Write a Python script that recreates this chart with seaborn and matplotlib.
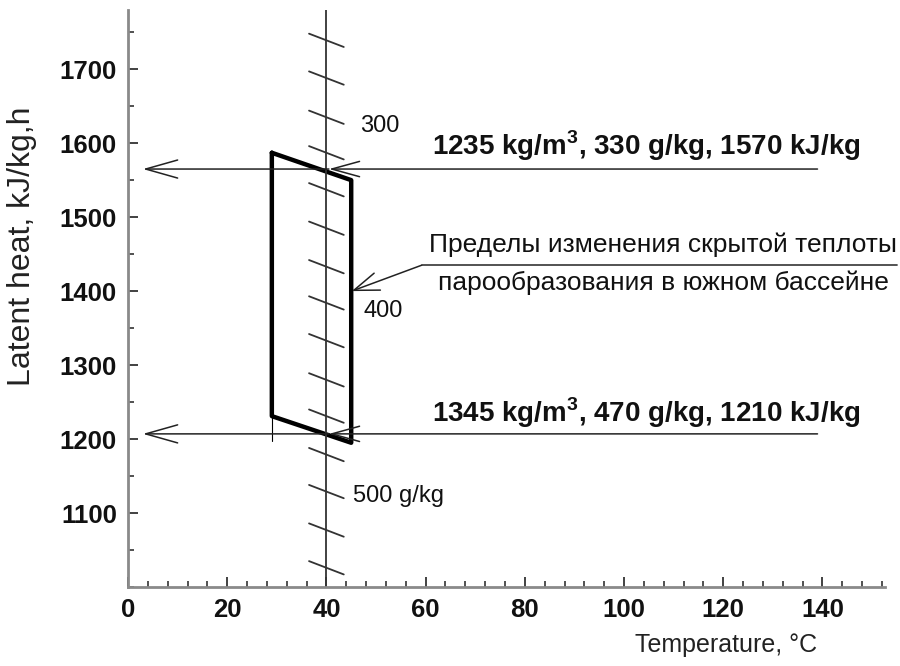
import matplotlib
matplotlib.use("Agg")
import matplotlib.pyplot as plt
from matplotlib.ticker import MultipleLocator
import seaborn as sns
import pandas as pd

# --- DATA ---
# parallelogram: limits of latent heat in the southern basin
box_temp = [29, 45, 45, 29, 29]
box_heat = [1587, 1550, 1195, 1231, 1587]

# concentration scale drawn along the 40 C line (every 20 g/kg)
scale_temp = 40
scale_heat = [1739, 1688, 1635, 1587, 1537, 1485, 1433, 1384,
              1333, 1280, 1231, 1179, 1129, 1077, 1026]
scale_labels = ["300", "400", "500 g/kg"]
scale_label_temp = [46.8, 47.4, 45.4]
scale_label_heat = [1623, 1373, 1123]

# the two limiting states
limit_heat = [1565, 1207]
limit_labels = ["1235 kg/m$^{\\mathbf{3}}$, 330 g/kg, 1570 kJ/kg",
                "1345 kg/m$^{\\mathbf{3}}$, 470 g/kg, 1210 kJ/kg"]
limit_label_heat = [1584, 1223]

note_lines = ["Пределы изменения скрытой теплоты",
              "парообразования в южном бассейне"]
note_line_heat = [1453, 1402]

x_ticks = [0, 20, 40, 60, 80, 100, 120, 140]
y_ticks = [1100, 1200, 1300, 1400, 1500, 1600, 1700]

# --- STYLE ---
sns.set_theme(style="ticks")
plt.rcParams['font.family'] = ['Liberation Sans', 'DejaVu Sans']
plt.rcParams['mathtext.fontset'] = 'custom'
plt.rcParams['mathtext.rm'] = 'Liberation Sans'
plt.rcParams['mathtext.bf'] = 'Liberation Sans:bold'

fig = plt.figure(figsize=(9, 6.66), dpi=100)
ax = fig.add_axes([0.1422, 0.1186, 0.8411, 0.8664])

# 1. Parallelogram
box = pd.DataFrame({"temp": box_temp, "heat": box_heat})
sns.lineplot(data=box, x="temp", y="heat", sort=False, estimator=None,
             color="black", lw=3.2, ax=ax)
ax.plot([box_temp[3], box_temp[3]], [box_heat[3], 1197], color="black", lw=0.8)

# 2. Vertical 40 C line with concentration hatches
ax.axvline(scale_temp, color="#333333", lw=1.3)
for h in scale_heat:
    ax.plot([scale_temp - 3.5, scale_temp + 3.5], [h + 9, h - 9],
            color="#333333", lw=1.3)
for lab, t, h in zip(scale_labels, scale_label_temp, scale_label_heat):
    ax.text(t, h, lab, fontsize=17, ha="left", va="center", color="#111111")

# 3. Horizontal limit lines with arrows
for h, lab, lh in zip(limit_heat, limit_labels, limit_label_heat):
    ax.annotate("", xy=(scale_temp + 0.5, h), xytext=(139, h),
                arrowprops=dict(arrowstyle="->,head_length=2.0,head_width=0.55",
                                mutation_scale=10, lw=1.1, color="#222222",
                                shrinkA=0, shrinkB=0))
    ax.annotate("", xy=(3, h), xytext=(scale_temp + 0.5, h),
                arrowprops=dict(arrowstyle="->,head_length=2.3,head_width=0.65",
                                mutation_scale=10, lw=1.1, color="#222222",
                                shrinkA=0, shrinkB=0))
    ax.text(61.3, lh, lab, fontsize=20, fontweight="bold", ha="left",
            va="baseline", color="#111111")

# 4. Note with leader line
ax.annotate("", xy=(45.1, 1400), xytext=(59.2, 1435),
            arrowprops=dict(arrowstyle="->,head_length=1.8,head_width=0.65",
                            mutation_scale=10, lw=1.1, color="#222222",
                            shrinkA=0, shrinkB=0))
ax.plot([59.2, 155], [1435, 1435], color="#444444", lw=1.3, clip_on=False)
for line, h in zip(note_lines, note_line_heat):
    ax.text(107.9, h, line, fontsize=19, ha="center", va="baseline",
            color="#111111", clip_on=False)

# 5. Axes
ax.set_xlim(0, 152.6)
ax.set_ylim(1000, 1780)
ax.set_xticks(x_ticks)
ax.set_yticks(y_ticks)
ax.xaxis.set_minor_locator(MultipleLocator(4))
ax.yaxis.set_minor_locator(MultipleLocator(50))
ax.tick_params(which="major", direction="in", length=7, width=1.3,
               color="#333333", pad=8, labelsize=18.5, labelcolor="#111111")
ax.tick_params(which="minor", direction="in", length=4.5, width=1.2,
               color="#333333")
plt.setp(ax.get_xticklabels() + ax.get_yticklabels(), fontweight="bold")

sns.despine(ax=ax)
for side in ["left", "bottom"]:
    ax.spines[side].set_color("#8a8a8a")
    ax.spines[side].set_linewidth(2)

ax.set_xlabel("Temperature, °C", fontsize=18, color="#222222")
ax.xaxis.set_label_coords(0.79, -0.08)
ax.set_ylabel("Latent heat, kJ/kg,h", fontsize=23, color="#222222")
ax.yaxis.set_label_coords(-0.12, 0.59)

fig.savefig("out.png", dpi=100)
